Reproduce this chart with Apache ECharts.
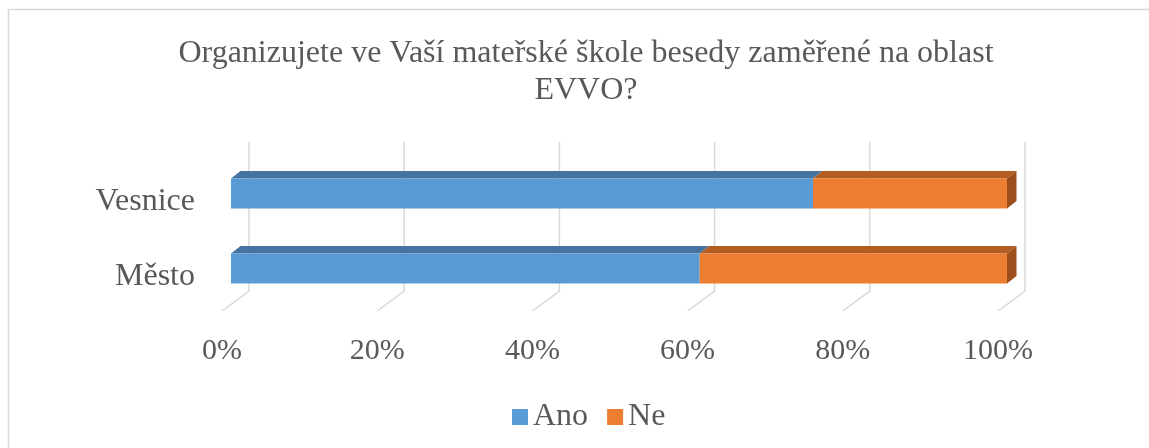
<!DOCTYPE html>
<html>
<head>
<meta charset="utf-8">
<script src="https://cdn.jsdelivr.net/npm/echarts@6/dist/echarts.min.js"></script>
<style>
  html, body { margin: 0; padding: 0; background: #fff; }
  #main { width: 1149px; height: 448px; }
</style>
</head>
<body>
<div id="main"></div>
<script>
var categories = ["Město", "Vesnice"];
var anoValues = [60.4, 75];
var neValues = [39.6, 25];
var ticks = [0, 20, 40, 60, 80, 100];

var chart = echarts.init(document.getElementById("main"));
var font = "'Liberation Serif', 'Times New Roman', serif";
var textColor = "#595959";

// depth of one bar, and of the whole 3d box
var DX = 9.5, DY = 7.5;

function barItem(colors, withSide) {
  return function (params, api) {
    var cat = api.value(0);
    var p0 = api.coord([api.value(1), cat]);
    var p1 = api.coord([api.value(2), cat]);
    var h = api.size([0, 1])[1] * 0.4;
    var yTop = p0[1] - h / 2, yBot = p0[1] + h / 2;
    var x0 = p0[0], x1 = p1[0];
    var children = [
      {
        type: "polygon",
        shape: { points: [[x0, yTop], [x1, yTop], [x1 + DX, yTop - DY], [x0 + DX, yTop - DY]] },
        style: { fill: colors[1] }
      },
      {
        type: "rect",
        shape: { x: x0, y: yTop, width: x1 - x0, height: h },
        style: { fill: colors[0] }
      }
    ];
    if (withSide) {
      children.push({
        type: "polygon",
        shape: { points: [[x1, yTop], [x1 + DX, yTop - DY], [x1 + DX, yBot - DY], [x1, yBot]] },
        style: { fill: colors[2] }
      });
    }
    return { type: "group", children: children };
  };
}

var anoData = categories.map(function (c, i) { return [i, 0, anoValues[i]]; });
var neData = categories.map(function (c, i) { return [i, anoValues[i], anoValues[i] + neValues[i]]; });

var option = {
  animation: false,
  backgroundColor: "#fff",
  title: {
    text: "Organizujete ve Vaší mateřské škole besedy zaměřené na oblast\nEVVO?",
    left: 581,
    textAlign: "center",
    top: 30,
    textStyle: { fontFamily: font, fontSize: 32, fontWeight: "normal", color: textColor, lineHeight: 37 }
  },
  legend: {
    data: ["Ano", "Ne"],
    left: 507,
    top: 396,
    padding: 5,
    icon: "rect",
    itemWidth: 16,
    itemHeight: 16,
    itemGap: 19,
    textStyle: { fontFamily: font, fontSize: 32, color: textColor }
  },
  graphic: [
    {
      type: "rect",
      shape: { x: 8.5, y: 9.5, width: 1300, height: 600 },
      style: { fill: null, stroke: "#d9d9d9", lineWidth: 1.5 },
      silent: true
    }
  ],
  grid: { left: 231, right: 142, top: 156, bottom: 142 },
  xAxis: {
    type: "value",
    min: 0,
    max: 100,
    interval: 20,
    axisLine: { show: false },
    axisTick: { show: false },
    splitLine: { show: false },
    axisLabel: {
      formatter: "{value}%",
      fontFamily: font,
      fontSize: 30,
      color: textColor,
      margin: 30,
      padding: [0, 18, 0, 0]
    }
  },
  yAxis: {
    type: "category",
    data: categories,
    axisLine: { show: false },
    axisTick: { show: false },
    axisLabel: {
      fontFamily: font,
      fontSize: 32,
      color: textColor,
      margin: 36,
      verticalAlign: "top",
      lineHeight: 16
    }
  },
  series: [
    {
      type: "custom",
      name: "grid",
      z: 1,
      silent: true,
      data: ticks,
      encode: { x: 0 },
      renderItem: function (params, api) {
        var cs = params.coordSys;
        var x = api.coord([api.value(0), 0])[0];
        var bottom = cs.y + cs.height;
        return {
          type: "polyline",
          shape: { points: [[x + 18, cs.y - 14], [x + 18, bottom - 15], [x - 9, bottom + 5]] },
          style: { stroke: "#d9d9d9", lineWidth: 1.5, fill: null }
        };
      }
    },
    {
      type: "custom",
      name: "Ano",
      z: 3,
      itemStyle: { color: "#5B9BD5" },
      data: anoData,
      encode: { y: 0, x: [1, 2] },
      renderItem: barItem(["#5B9BD5", "#4574A0", "#41729F"], false)
    },
    {
      type: "custom",
      name: "Ne",
      z: 3,
      itemStyle: { color: "#ED7D31" },
      data: neData,
      encode: { y: 0, x: [1, 2] },
      renderItem: barItem(["#ED7D31", "#B45D22", "#9C4F1A"], true)
    }
  ]
};

chart.setOption(option);
window.onresize = chart.resize;
</script>
</body>
</html>
